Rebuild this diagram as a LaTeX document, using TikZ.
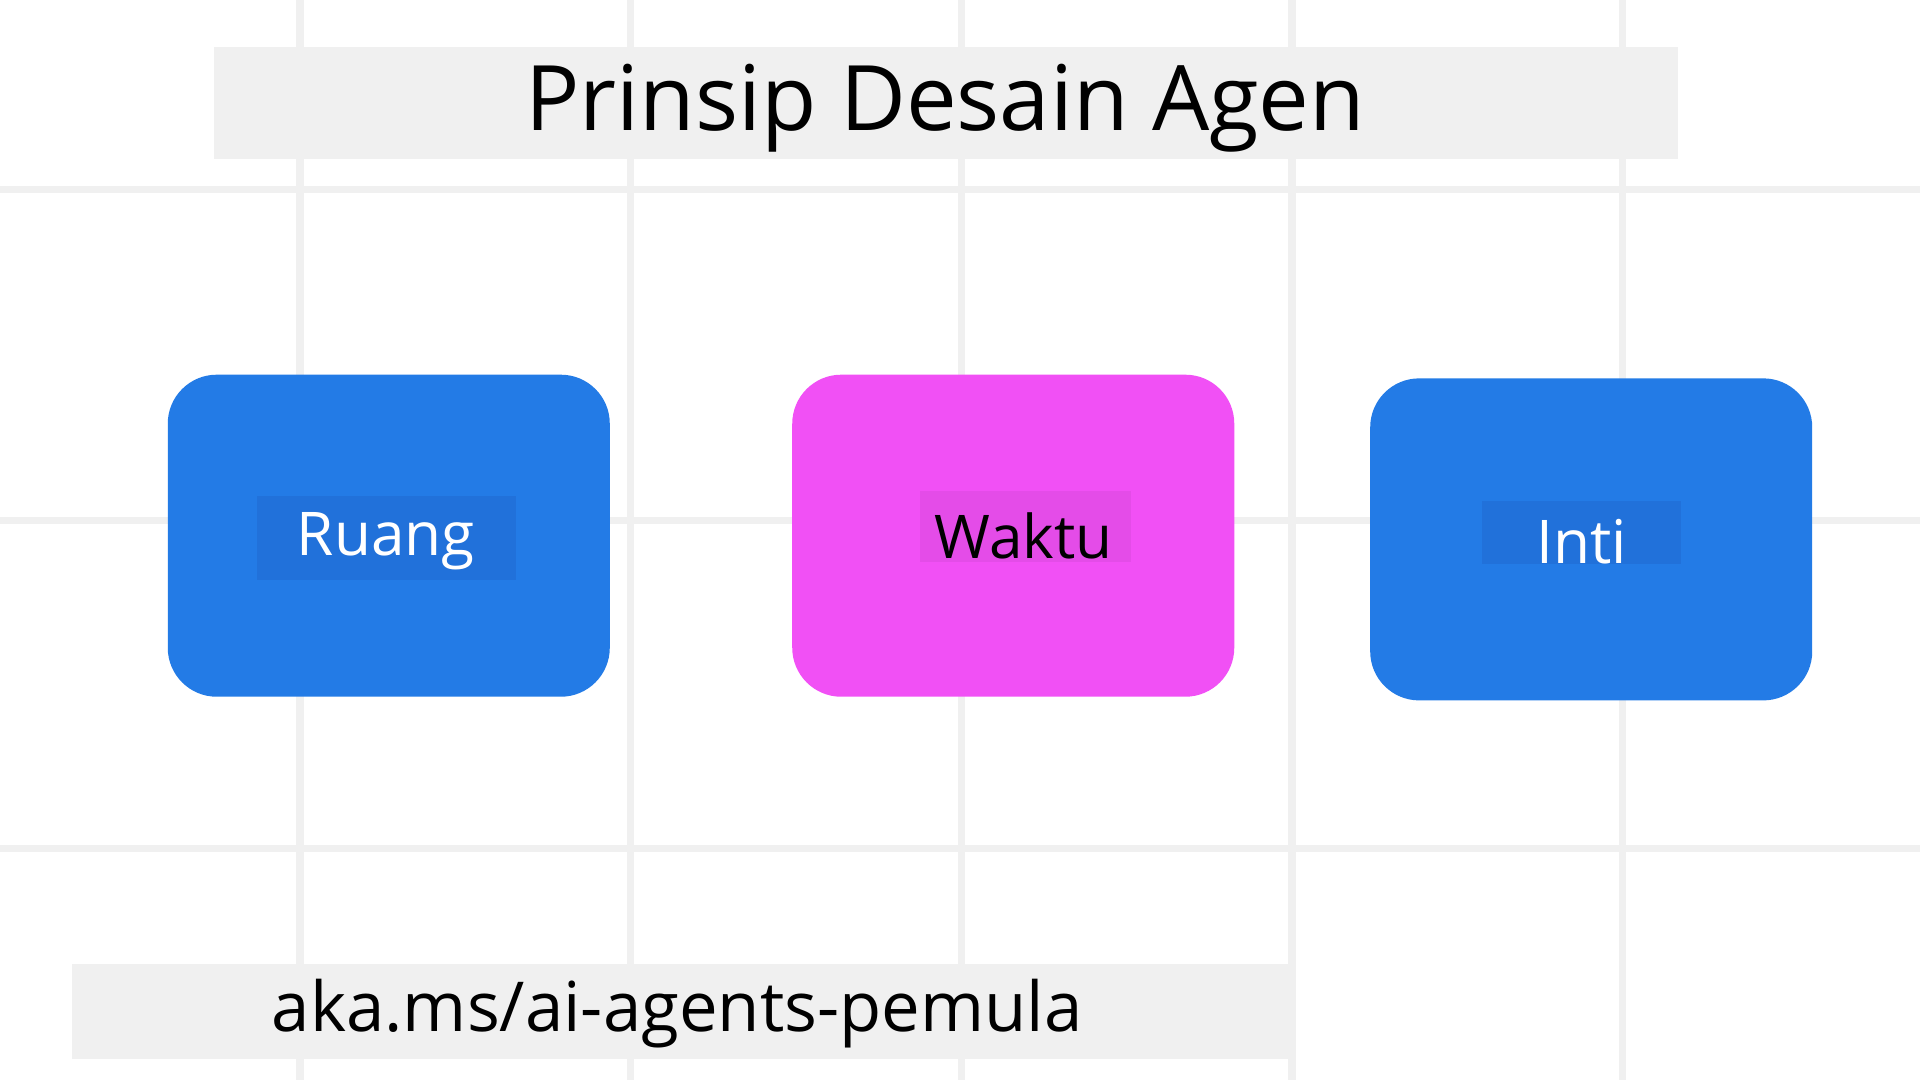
\documentclass[tikz,border=0pt]{standalone}
\usepackage{fontspec}
\setmainfont{Open Sans}
\definecolor{cblue}{RGB}{35,123,230}
\definecolor{cbluel}{RGB}{33,113,218}
\definecolor{cmag}{RGB}{241,80,245}
\definecolor{cmagl}{RGB}{228,76,232}
\begin{document}
\begin{tikzpicture}[x=0.01cm,y=-0.01cm,
  grid/.style={draw=black!6,line width=6*0.2845pt},
  card/.style={rounded corners=40*0.2845pt},
  lab/.style={font=\fontsize{14}{16}\selectfont}]
\useasboundingbox (0,0) rectangle (1568,882);
\fill[white] (0,0) rectangle (1568,882);
\foreach \x in {245,515,785,1055,1325} \draw[grid] (\x,0) -- (\x,882);
\foreach \y in {155,425,693} \draw[grid] (0,\y) -- (1568,\y);
\fill[black!6] (175,38) rectangle (1370,130);
\node[font=\fontsize{21}{24}\selectfont] (title) at (772,88) {Prinsip Desain Agen};
\fill[card,fill=cblue] (137,306) rectangle (498,569);
\fill[cbluel] (210,405) rectangle (421,474);
\node[lab,white] (ruang) at (315,442) {Ruang};
\fill[card,fill=cmag] (647,306) rectangle (1008,569);
\fill[cmagl] (751,401) rectangle (924,459);
\node[lab,black] (waktu) at (836,438) {Waktu};
\fill[card,fill=cblue] (1119,309) rectangle (1480,572);
\fill[cbluel] (1210,409) rectangle (1373,461);
\node[lab,white] (inti) at (1292,442) {Inti};
\fill[black!6] (59,787) rectangle (1052,865);
\node[font=\fontsize{16}{18}\selectfont] (url) at (553,828) {aka.ms/ai-agents-pemula};
\end{tikzpicture}
\end{document}
